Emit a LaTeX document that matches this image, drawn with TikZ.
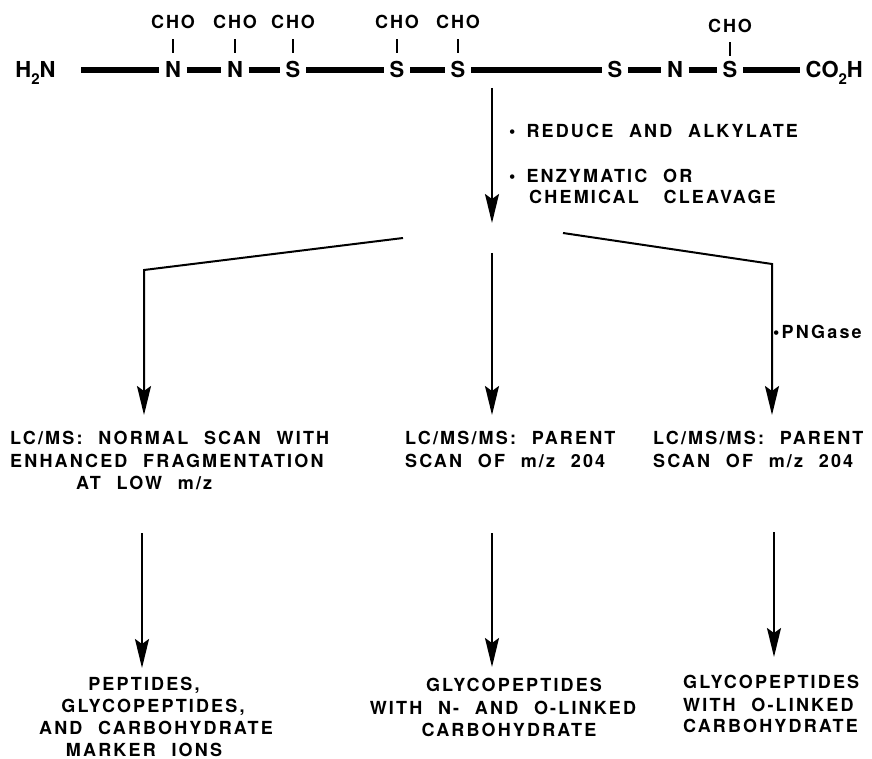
\documentclass[tikz,border=0pt]{standalone}
\usepackage{fontspec}
\setmainfont{TeX Gyre Heros}
\newfontfamily\lab[LetterSpace=12,WordSpace=2.2]{TeX Gyre Heros}
\newfontfamily\chofont[LetterSpace=10]{TeX Gyre Heros}
\usetikzlibrary{arrows.meta}
\newcommand\subs[1]{\raisebox{-0.28em}{\fontsize{15}{15}\selectfont #1}}
\tikzset{
  atom/.style={font=\fontsize{22}{22}\selectfont\bfseries, inner xsep=5.5pt, inner ysep=1pt, text height=16pt, text depth=0pt},
  bond/.style={line width=6pt},
  tickline/.style={line width=1.8pt},
  cho/.style={font=\chofont\bfseries\fontsize{18}{18}\selectfont, inner sep=0pt, text height=13pt, text depth=0pt},
  lbl/.style={font=\lab\bfseries\fontsize{18}{18}\selectfont, inner sep=0pt},
  arr/.style={line width=2pt, -{Stealth[length=29pt,width=14pt,inset=5pt]}}
}
\begin{document}
\begin{tikzpicture}[x=1pt,y=-1pt]
\useasboundingbox (0,0) rectangle (872,759);
% chain
\node[atom] (h) at (35.5,70) {H\subs{2}N};
\node[atom] (n1) at (173,70) {N};
\node[atom] (n2) at (235,70) {N};
\node[atom] (s1) at (293,70) {S};
\node[atom] (s2) at (397,70) {S};
\node[atom] (s3) at (458,70) {S};
\node[atom] (s4) at (615,70) {S};
\node[atom] (n3) at (675,70) {N};
\node[atom] (s5) at (730,70) {S};
\node[atom, anchor=west] (co) at (800,70) {CO\subs{2}H};
\draw[bond] ([xshift=20pt]h.east) -- (n1);
\draw[bond] (n1) -- (n2);
\draw[bond] (n2) -- (s1);
\draw[bond] (s1) -- (s2);
\draw[bond] (s2) -- (s3);
\draw[bond] (s3) -- (s4);
\draw[bond] (s4) -- (n3);
\draw[bond] (n3) -- (s5);
\draw[bond] (s5) -- (co);
% CHO
\node[cho] (c1) at (173,22) {CHO};
\node[cho] (c2) at (235,22) {CHO};
\node[cho] (c3) at (293,22) {CHO};
\node[cho] (c4) at (397,22) {CHO};
\node[cho] (c5) at (458,22) {CHO};
\node[cho] (c6) at (730,26) {CHO};
\foreach \c/\a in {c1/n1,c2/n2,c3/s1,c4/s2,c5/s3}
  \draw[tickline] ([yshift=-10.5pt]\c.south) -- ([yshift=8pt]\a.north);
\draw[tickline] ([yshift=-9.5pt]c6.south) -- ([yshift=5pt]s5.north);
% main arrow
\coordinate (top) at (492,88);
\coordinate (split) at (492,223);
\draw[arr] (top) -- (split);
\node[lbl, anchor=base west] (t1) at (509,138) {•\hspace{11pt}REDUCE AND ALKYLATE};
\node[lbl, anchor=base west] (t2) at (509,183) {•\hspace{11pt}ENZYMATIC OR};
\node[lbl, anchor=base west] (t3) at (529,204) {CHEMICAL\hspace{9pt} CLEAVAGE};
% branches
\coordinate (bl0) at (403,238);
\coordinate (bl1) at (144,270);
\coordinate (bl2) at (144,415);
\coordinate (bm0) at (492,253);
\coordinate (bm2) at (492,415);
\coordinate (br0) at (563,233);
\coordinate (br1) at (772,264);
\coordinate (br2) at (772,415);
\draw[arr] (bl0) -- (bl1) -- (bl2);
\draw[arr] (bm0) -- (bm2);
\draw[arr] (br0) -- (br1) -- (br2);
\node[lbl, anchor=base west] (png) at (773,338) {•PNGase};
% middle texts
\node[lbl, anchor=base west] (m1a) at (10,444) {LC/MS: NORMAL SCAN WITH};
\node[lbl, anchor=base west] (m1b) at (10,467) {ENHANCED FRAGMENTATION};
\node[lbl, anchor=base west] (m1c) at (76,489) {AT LOW m/z};
\node[lbl, anchor=base west] (m2a) at (405,444) {LC/MS/MS: PARENT};
\node[lbl, anchor=base west] (m2b) at (405,467) {SCAN OF m/z 204};
\node[lbl, anchor=base west] (m3a) at (653,444) {LC/MS/MS: PARENT};
\node[lbl, anchor=base west] (m3b) at (653,467) {SCAN OF m/z 204};
% lower arrows
\coordinate (a1s) at (142,533);
\coordinate (a1e) at (142,668);
\coordinate (a2s) at (492,533);
\coordinate (a2e) at (492,667);
\coordinate (a3s) at (774,532);
\coordinate (a3e) at (774,657);
\draw[arr] (a1s) -- (a1e);
\draw[arr] (a2s) -- (a2e);
\draw[arr] (a3s) -- (a3e);
% bottom texts
\node[lbl, anchor=base] (b1a) at (144,690) {PEPTIDES,};
\node[lbl, anchor=base] (b1b) at (153,712) {GLYCOPEPTIDES,};
\node[lbl, anchor=base] (b1c) at (156,734) {AND CARBOHYDRATE};
\node[lbl, anchor=base] (b1d) at (144,756) {MARKER IONS};
\node[lbl, anchor=base] (b2a) at (514,691) {GLYCOPEPTIDES};
\node[lbl, anchor=base] (b2b) at (503,714) {WITH N- AND O-LINKED};
\node[lbl, anchor=base] (b2c) at (509,736) {CARBOHYDRATE};
\node[lbl, anchor=base west] (b3a) at (683,688) {GLYCOPEPTIDES};
\node[lbl, anchor=base west] (b3b) at (683,711) {WITH O-LINKED};
\node[lbl, anchor=base west] (b3c) at (683,732) {CARBOHYDRATE};
\end{tikzpicture}
\end{document}
